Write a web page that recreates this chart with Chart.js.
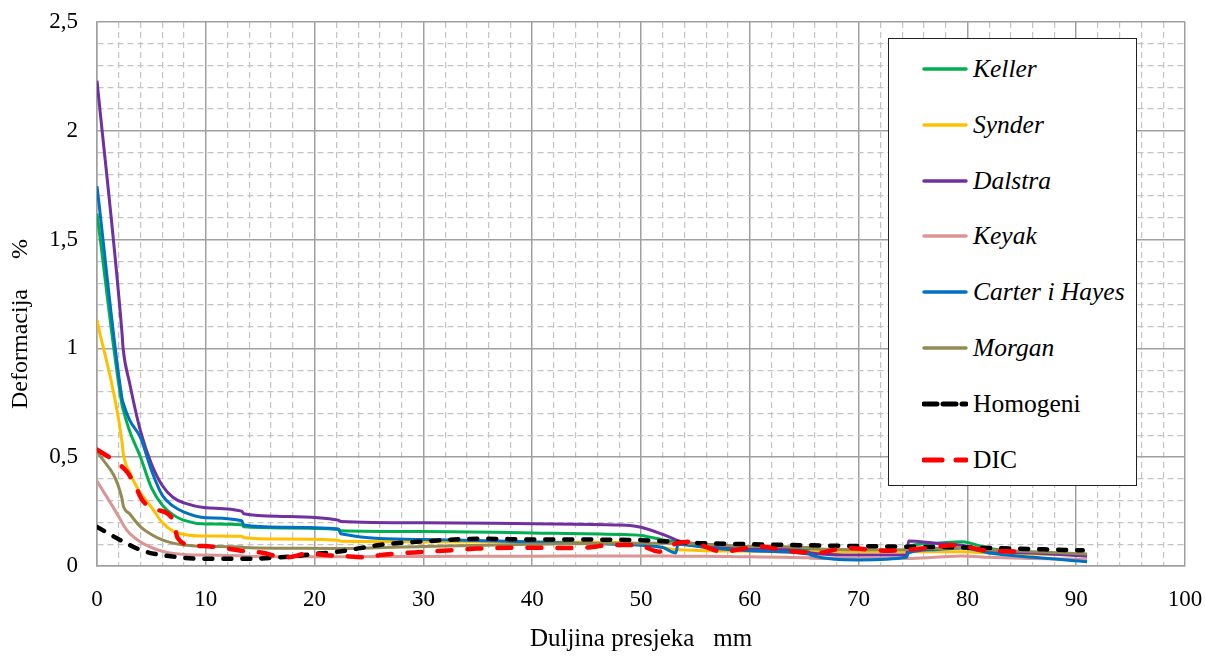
<!DOCTYPE html>
<html>
<head>
<meta charset="utf-8">
<script src="https://cdn.jsdelivr.net/npm/chart.js@4.4.1/dist/chart.umd.min.js"></script>
<style>
  body { margin: 0; background: #fff; }
  #wrap { position: relative; width: 1205px; height: 658px; }
  #legend {
    position: absolute; left: 888px; top: 38px; width: 249px; height: 448px;
    box-sizing: border-box; border: 1.5px solid #222; background: #fff;
    font-family: "Liberation Serif", "Times New Roman", serif; font-size: 25.5px; color: #000;
  }
  .item { position: absolute; left: 33px; height: 30px; display: flex; align-items: center; white-space: nowrap; }
  .item svg { margin-right: 5px; }
</style>
</head>
<body>
<div id="wrap">
  <canvas id="myChart" width="1205" height="658"></canvas>
  <div id="legend"></div>
</div>
<script>
// distance along the section (mm), shared by the model curves
var duljina = [0, 2.3, 2.4, 3, 4, 5, 6, 7, 8, 10, 13.3, 13.5, 17, 22.2, 22.4, 30, 40, 48, 50, 52,
               53.2, 53.4, 56, 60, 65.4, 65.6, 70, 74.4, 74.6, 77, 79.5, 82, 86, 91];

var keller  = [1.62, 0.74, 0.72, 0.62, 0.5, 0.36, 0.28, 0.235, 0.21, 0.193, 0.19, 0.18, 0.175, 0.168, 0.162, 0.158, 0.152, 0.145, 0.14, 0.12,
               0.11, 0.105, 0.09, 0.08, 0.075, 0.075, 0.07, 0.07, 0.09, 0.105, 0.112, 0.08, 0.06, 0.05];
var synder  = [1.13, 0.57, 0.52, 0.43, 0.335, 0.27, 0.2, 0.16, 0.145, 0.138, 0.137, 0.13, 0.124, 0.118, 0.114, 0.112, 0.11, 0.108, 0.1, 0.085,
               0.075, 0.075, 0.07, 0.068, 0.065, 0.065, 0.065, 0.065, 0.065, 0.065, 0.065, 0.06, 0.055, 0.05];
var dalstra = [2.23, 1.07, 1.0, 0.84, 0.62, 0.47, 0.37, 0.315, 0.29, 0.268, 0.252, 0.24, 0.228, 0.21, 0.205, 0.199, 0.194, 0.188, 0.178, 0.145,
               0.12, 0.115, 0.1, 0.08, 0.065, 0.06, 0.05, 0.05, 0.115, 0.105, 0.095, 0.07, 0.06, 0.045];
var keyak   = [0.39, 0.2, 0.19, 0.15, 0.11, 0.085, 0.068, 0.058, 0.053, 0.05, 0.047, 0.045, 0.043, 0.043, 0.043, 0.044, 0.045, 0.046, 0.046, 0.046,
               0.045, 0.045, 0.045, 0.042, 0.038, 0.036, 0.034, 0.035, 0.035, 0.04, 0.046, 0.04, 0.035, 0.03];
var carter  = [1.745, 0.77, 0.75, 0.67, 0.59, 0.44, 0.325, 0.275, 0.248, 0.222, 0.208, 0.188, 0.178, 0.17, 0.148, 0.122, 0.11, 0.1, 0.095, 0.085,
               0.06, 0.1, 0.085, 0.07, 0.055, 0.05, 0.028, 0.04, 0.06, 0.075, 0.083, 0.06, 0.04, 0.02];
var morgan  = [0.53, 0.31, 0.28, 0.24, 0.18, 0.145, 0.12, 0.105, 0.097, 0.09, 0.087, 0.085, 0.082, 0.08, 0.08, 0.09, 0.1, 0.105, 0.105, 0.105,
               0.105, 0.105, 0.1, 0.09, 0.085, 0.08, 0.075, 0.075, 0.08, 0.08, 0.085, 0.075, 0.065, 0.055];

// homogeneous model
var homX = [0, 2.4, 4.2, 7, 9.7, 13.4, 17.7, 19.9, 22.2, 26, 29.7, 35.2, 40, 49, 55.4, 60, 69.2, 80, 90.6];
var homY = [0.18, 0.112, 0.07, 0.043, 0.033, 0.033, 0.043, 0.055, 0.066, 0.097, 0.112, 0.125, 0.122, 0.12, 0.105, 0.1, 0.092, 0.085, 0.072];

// DIC measurement
var dicX = [0, 1.4, 2.8, 3.5, 4.2, 5.5, 7.0, 7.4, 8.8, 10.4, 12, 13.6, 15.3, 16.5, 17.5, 19.4, 21, 22.5, 24.7, 26,
            28.6, 31.8, 35, 38.3, 44.4, 47.5, 49.6, 51.7, 53.3, 54.5, 56, 57.5, 59.5, 61, 63, 66.2, 68.9, 72.6, 76.3, 79, 81.4, 84.5];
var dicY = [0.535, 0.49, 0.43, 0.37, 0.3, 0.26, 0.21, 0.13, 0.095, 0.09, 0.08, 0.068, 0.06, 0.045, 0.04, 0.058, 0.05, 0.046, 0.04, 0.05,
            0.061, 0.07, 0.08, 0.084, 0.083, 0.097, 0.097, 0.066, 0.105, 0.112, 0.087, 0.066, 0.08, 0.09, 0.073, 0.06, 0.083, 0.07, 0.083, 0.097, 0.073, 0.066];

var xTicks = [0, 10, 20, 30, 40, 50, 60, 70, 80, 90, 100];
var yTicks = ["0", "0,5", "1", "1,5", "2", "2,5"];

function pts(xs, ys) {
    return xs.map(function(x, i) { return { x: x, y: ys[i] }; });
}

function series(label, xs, ys, color, dash, width, italic) {
    return {
        label: label,
        data: pts(xs, ys),
        borderColor: color,
        backgroundColor: color,
        borderWidth: width,
        borderDash: dash,
        borderCapStyle: dash.length ? 'round' : 'butt',
        pointRadius: 0,
        cubicInterpolationMode: 'monotone',
        italic: italic
    };
}

var datasets = [
    series("Keller", duljina, keller, '#00b050', [], 3, true),
    series("Synder", duljina, synder, '#ffc000', [], 3, true),
    series("Dalstra", duljina, dalstra, '#7030a0', [], 3, true),
    series("Keyak", duljina, keyak, '#da9694', [], 3, true),
    series("Carter i Hayes", duljina, carter, '#0070c0', [], 3, true),
    series("Morgan", duljina, morgan, '#948a54', [], 3, true),
    series("Homogeni", homX, homY, '#000000', [8, 11], 4.5, false),
    series("DIC", dicX, dicY, '#ff0000', [14, 16], 4.5, false)
];
// later series drawn on top
datasets.forEach(function(d, i) { d.order = datasets.length - i; });

Chart.defaults.font.family = '"Liberation Serif", "Times New Roman", serif';
Chart.defaults.color = '#000';

function isMajorX(v) { return xTicks.indexOf(v) >= 0; }
function isMajorY(v) { return Math.round(v * 10) % 5 === 0; }

var ctx = document.getElementById('myChart').getContext('2d');
var chart = new Chart(ctx, {
    type: 'line',
    data: { datasets: datasets },
    options: {
        responsive: false,
        animation: false,
        layout: { padding: { top: 22, right: 20, left: 0, bottom: 0 } },
        plugins: { legend: { display: false }, tooltip: { enabled: false } },
        scales: {
            x: {
                type: 'linear', min: 0, max: 100,
                afterFit: function(s) { s.height = 92; s.paddingLeft = 0; s.paddingRight = 0; },
                ticks: {
                    stepSize: 2, autoSkip: false, maxRotation: 0, padding: 20,
                    font: { size: 23 },
                    callback: function(v) { return isMajorX(v) ? String(v) : ''; }
                },
                grid: {
                    drawTicks: false,
                    color: function(c) { return isMajorX(c.tick.value) ? '#a0a0a0' : '#c4c4c4'; },
                    lineWidth: function(c) { return isMajorX(c.tick.value) ? 1.5 : 1.2; }
                },
                border: {
                    color: '#a0a0a0', width: 1.5,
                    dash: function(c) { return (c.tick && !isMajorX(c.tick.value)) ? [6, 4] : []; }
                },
                title: { display: true, text: 'Duljina presjeka   mm', font: { size: 25 }, padding: { top: 0, bottom: 4 } }
            },
            y: {
                min: 0, max: 2.5,
                afterFit: function(s) { s.width = 97; s.paddingTop = 0; s.paddingBottom = 0; },
                ticks: {
                    stepSize: 0.1, autoSkip: false, padding: 19,
                    font: { size: 23 },
                    callback: function(v) { return isMajorY(v) ? yTicks[Math.round(v * 2)] : ''; }
                },
                grid: {
                    drawTicks: false,
                    color: function(c) { return isMajorY(c.tick.value) ? '#a0a0a0' : '#c4c4c4'; },
                    lineWidth: function(c) { return isMajorY(c.tick.value) ? 1.5 : 1.2; }
                },
                border: {
                    color: '#a0a0a0', width: 1.5,
                    dash: function(c) { return (c.tick && !isMajorY(c.tick.value)) ? [6, 4] : []; }
                },
                // trailing spaces push the centred title down, as in the original
                title: { display: true, text: 'Deformacija     %          ', font: { size: 24 }, padding: { top: 6, bottom: 0 } }
            }
        }
    }
});

// legend box inside the plot, built from the datasets
var legend = document.getElementById('legend');
chart.data.datasets.forEach(function(d, i) {
    var item = document.createElement('div');
    item.className = 'item';
    item.style.top = (15 + i * 55.8) + 'px';
    var dash = d.borderDash.length ? (d.label == 'DIC' ? '18,14' : '13,6') : 'none';
    item.innerHTML = '<svg width="46" height="10"><line x1="2" y1="5" x2="44" y2="5" stroke="' + d.borderColor +
        '" stroke-width="' + (d.borderDash.length ? 5 : 3.5) + '" stroke-dasharray="' + dash +
        '" stroke-linecap="round"/></svg>' +
        '<span style="font-style:' + (d.italic ? 'italic' : 'normal') + '">' + d.label + '</span>';
    legend.appendChild(item);
});
</script>
</body>
</html>
